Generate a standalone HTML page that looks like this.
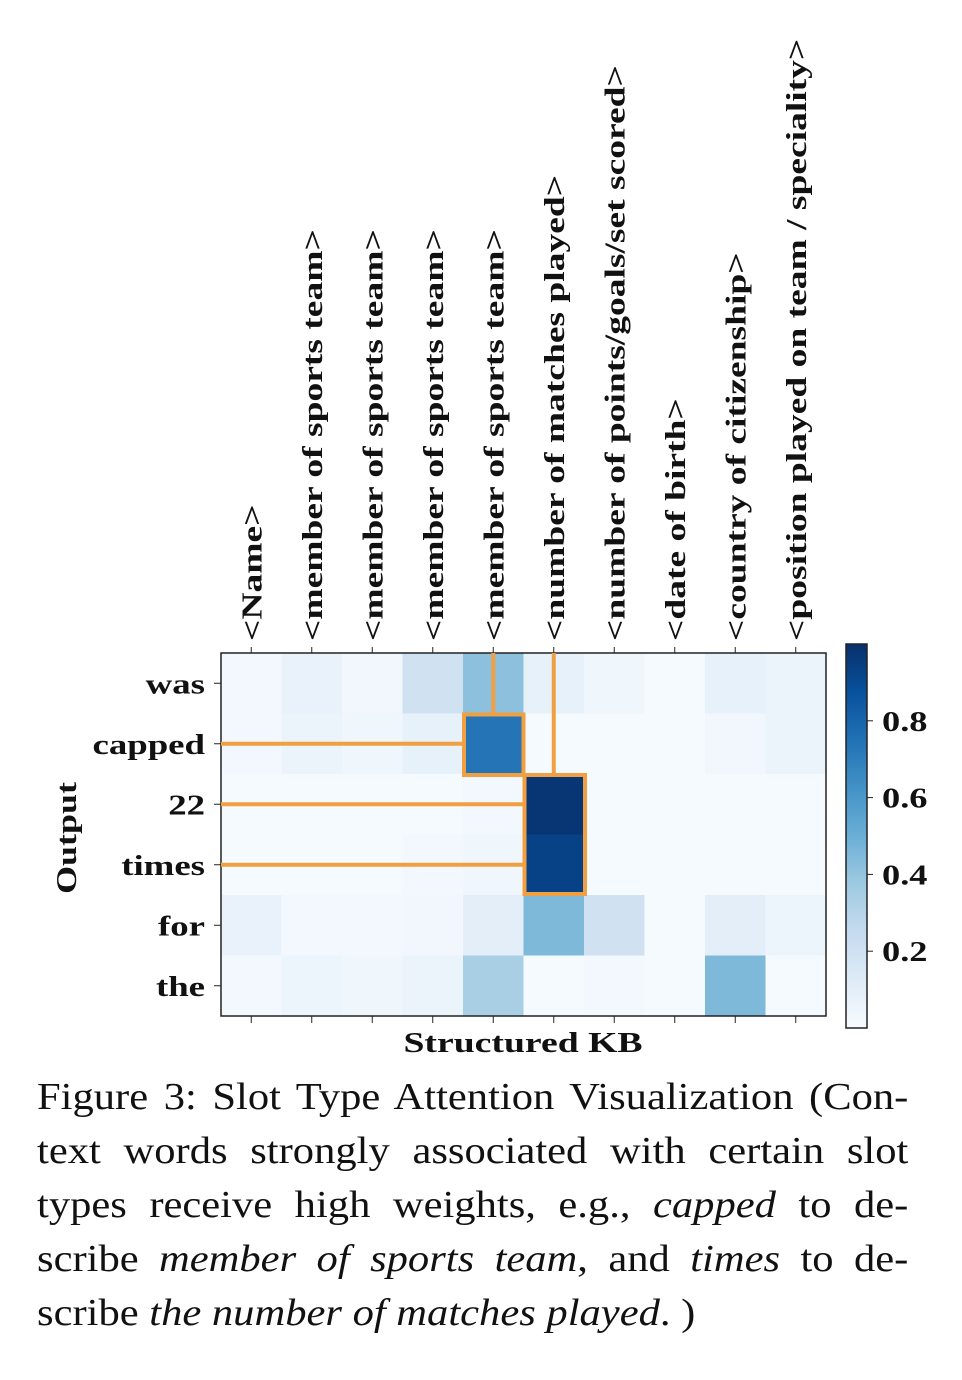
<!DOCTYPE html>
<html><head><meta charset="utf-8">
<style>
body{margin:0;background:#fff;width:962px;height:1380px;overflow:hidden;position:relative;font-family:"Liberation Serif",serif;}
#cap{position:absolute;left:37px;top:1070px;width:778px;font-size:38px;line-height:54px;color:#111;transform:scaleX(1.12);transform-origin:0 0;}
#cap .ln{text-align:justify;text-align-last:justify;white-space:nowrap;}
#cap .ln.last{text-align-last:left;}
</style></head><body>
<svg id="chart" width="962" height="1060" style="position:absolute;left:0;top:0" font-family="Liberation Serif, serif">
<defs><linearGradient id="cb" x1="0" y1="1" x2="0" y2="0">
<stop offset="0" stop-color="#f7fbff"/><stop offset="0.125" stop-color="#deebf7"/><stop offset="0.25" stop-color="#c6dbef"/><stop offset="0.375" stop-color="#9ecae1"/><stop offset="0.5" stop-color="#6baed6"/><stop offset="0.625" stop-color="#4292c6"/><stop offset="0.75" stop-color="#2171b5"/><stop offset="0.875" stop-color="#08519c"/><stop offset="1" stop-color="#08306b"/></linearGradient></defs>
<g id="cells"></g><g id="labels"></g><g id="hl"></g>
</svg>
<div id="cap">
<div class="ln">Figure 3: Slot Type Attention Visualization (Con-</div>
<div class="ln">text words strongly associated with certain slot</div>
<div class="ln">types receive high weights, e.g., <i>capped</i> to de-</div>
<div class="ln">scribe <i>member of sports team</i>, and <i>times</i> to de-</div>
<div class="ln last">scribe <i>the number of matches played</i>. )</div>
</div>
<script>
const columns=["<Name>","<member of sports team>","<member of sports team>","<member of sports team>","<member of sports team>","<number of matches played>","<number of points/goals/set scored>","<date of birth>","<country of citizenship>","<position played on team / speciality>"];
const rows=["was","capped","22","times","for","the"];
const vWas=[0.02,0.07,0.03,0.2,0.42,0.08,0.04,0.01,0.08,0.06];
const vCapped=[0.02,0.06,0.04,0.08,0.74,0.01,0.01,0.01,0.03,0.06];
const v22=[0.01,0.01,0.01,0.01,0.02,0.98,0.01,0.01,0.01,0.01];
const vTimes=[0.01,0.01,0.01,0.02,0.04,0.93,0.01,0.01,0.01,0.01];
const vFor=[0.07,0.02,0.02,0.03,0.1,0.45,0.2,0.01,0.1,0.05];
const vThe=[0.02,0.05,0.04,0.06,0.34,0.01,0.02,0.01,0.45,0.01];
const cbTicks=[0.2,0.4,0.6,0.8];
const values=[vWas,vCapped,v22,vTimes,vFor,vThe];
const NS="http://www.w3.org/2000/svg";
const X0=221,Y0=653,CW=60.5,CH=60.5;
const xs=i=>X0+i*CW, ys=j=>Y0+j*CH;
const stops=["#f7fbff","#deebf7","#c6dbef","#9ecae1","#6baed6","#4292c6","#2171b5","#08519c","#08306b"].map(h=>[1,3,5].map(k=>parseInt(h.substr(k,2),16)));
function col(v){v=Math.max(0,Math.min(1,v))*8;const i=Math.min(7,Math.floor(v)),t=v-i;const c=stops[i].map((a,k)=>Math.round(a+(stops[i+1][k]-a)*t));return `rgb(${c})`;}
function el(tag,attrs,parent,text){const e=document.createElementNS(NS,tag);for(const k in attrs)e.setAttribute(k,attrs[k]);if(text!==undefined)e.textContent=text;parent.appendChild(e);return e;}
const cells=document.getElementById('cells'),lab=document.getElementById('labels'),hl=document.getElementById('hl');
values.forEach((r,j)=>r.forEach((v,i)=>{const e=el('rect',{x:xs(i),y:ys(j),width:CW+0.5,height:CH+0.5,fill:col(v)},cells);

}));
const fr=el('rect',{x:X0,y:Y0,width:CW*10,height:CH*6,fill:'none',stroke:'#222','stroke-width':1.5},lab);


columns.forEach((c,i)=>{const cx=xs(i)+CW/2;
el('line',{x1:cx,x2:cx,y1:Y0,y2:Y0-6,stroke:'#222'},lab);el('line',{x1:cx,x2:cx,y1:Y0+CH*6,y2:Y0+CH*6+7,stroke:'#222'},lab);
const t=el('text',{x:0,y:0,transform:`translate(${cx+10},641) rotate(-90) scale(1.34,1)`,'font-size':28,'font-weight':'bold',fill:'#111'},lab,c);

});
rows.forEach((r,j)=>{const cy=ys(j)+CH/2;el('line',{x1:X0,x2:X0-7,y1:cy,y2:cy,stroke:'#222'},lab);
const t=el('text',{x:0,y:0,transform:`translate(205,${cy+10}) scale(1.27,1)`,'text-anchor':'end','font-size':29,'font-weight':'bold',fill:'#111'},lab,r);

});
const yt=el('text',{x:0,y:0,transform:'translate(76,838) rotate(-90) scale(1.24,1)','text-anchor':'middle','font-size':29,'font-weight':'bold',fill:'#111'},lab,'Output');


const xt=el('text',{x:0,y:0,transform:'translate(523,1052) scale(1.3,1)','text-anchor':'middle','font-size':29,'font-weight':'bold',fill:'#111'},lab,'Structured KB');


const CB0=1028,CB1=644,cy=v=>CB0-(CB0-CB1)*v;
const cbr=el('rect',{x:846,y:CB1,width:21,height:CB0-CB1,fill:'url(#cb)',stroke:'#222','stroke-width':1.5},lab);


cbTicks.forEach(v=>{el('line',{x1:867,x2:873,y1:cy(v),y2:cy(v),stroke:'#222'},lab);
const t=el('text',{x:0,y:0,transform:`translate(882,${cy(v)+10}) scale(1.3,1)`,'font-size':28,'font-weight':'bold',fill:'#111'},lab,v.toFixed(1));

});
const O='#f0a040',sw=4;
function L(x1,y1,x2,y2){el('line',{x1,y1,x2,y2,stroke:O,'stroke-width':sw},hl);}
L(xs(4)+CW/2,Y0,xs(4)+CW/2,ys(1));L(xs(5)+CW/2,Y0,xs(5)+CW/2,ys(2));
L(X0,ys(1)+CH/2,xs(4),ys(1)+CH/2);L(X0,ys(2)+CH/2,xs(5),ys(2)+CH/2);L(X0,ys(3)+CH/2,xs(5),ys(3)+CH/2);
const b1=el('rect',{x:xs(4)+1,y:ys(1)+1,width:CW-1,height:CH,fill:'none',stroke:O,'stroke-width':sw},hl);


const b2=el('rect',{x:xs(5)+1,y:ys(2)+1,width:CW,height:CH*2-2,fill:'none',stroke:O,'stroke-width':sw},hl);


</script>
</body></html>
